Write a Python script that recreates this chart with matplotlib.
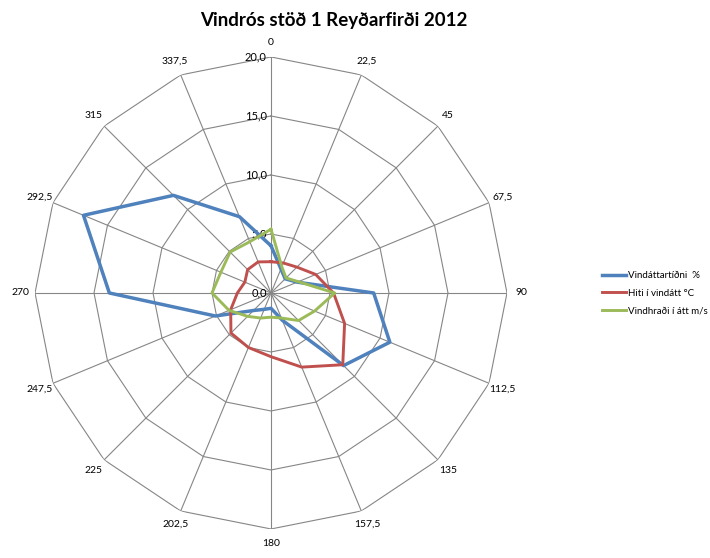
import numpy as np
import matplotlib.pyplot as plt
from matplotlib.transforms import offset_copy

plt.rcParams['font.family'] = ['Lato', 'DejaVu Sans']

# Áttir (gráður) og gildi fyrir hverja átt
attir = [0, 22.5, 45, 67.5, 90, 112.5, 135, 157.5,
         180, 202.5, 225, 247.5, 270, 292.5, 315, 337.5]
att_merki = ["0", "22,5", "45", "67,5", "90", "112,5", "135", "157,5",
             "180", "202,5", "225", "247,5", "270", "292,5", "315", "337,5"]

tidni = [4.0, 2.2, 1.7, 2.4, 8.7, 10.9, 8.7, 2.5,
         1.3, 1.5, 2.1, 5.1, 13.7, 17.2, 11.7, 7.0]
hiti = [2.65, 2.75, 3.1, 4.1, 5.3, 6.75, 8.6, 6.8,
        5.4, 5.0, 4.8, 3.7, 2.85, 2.4, 2.8, 2.85]
vindhradi = [5.4, 2.4, 1.8, 2.5, 5.4, 4.0, 3.3, 2.3,
             2.05, 2.3, 2.8, 3.85, 5.0, 4.6, 4.9, 4.7]

hringir = [0, 5, 10, 15, 20]
hring_merki = ["0,0", "5,0", "10,0", "15,0", "20,0"]

theta = np.deg2rad(attir)
theta_lokad = np.append(theta, theta[0])

def loka(gildi):
    return np.append(gildi, gildi[0])

fig = plt.figure(figsize=(7.1, 5.58), dpi=100)
ax = fig.add_axes([0.0493, 0.052, 0.6648, 0.8459], projection='polar')
ax.set_theta_zero_location('N')
ax.set_theta_direction(-1)
ax.set_ylim(0, 20)
ax.grid(False)
ax.spines['polar'].set_visible(False)
ax.patch.set_visible(False)

# hyrnd net og geislar
grar = '#868686'
for r in hringir[1:]:
    ax.plot(theta_lokad, [r] * len(theta_lokad), color=grar, lw=0.8, zorder=1)
for t in theta:
    ax.plot([t, t], [0, 20], color=grar, lw=0.8, zorder=1)

ax.set_xticks(theta)
ax.set_xticklabels(att_merki, fontsize=7.5)
ax.tick_params(axis='x', pad=0)
ax.set_yticks([])

trans = offset_copy(ax.transData, fig=fig, x=-3, y=0, units='points')
for r, m in zip(hringir, hring_merki):
    ax.text(0, r, m, transform=trans, ha='right', va='center', fontsize=8)

ax.plot(theta_lokad, loka(tidni), color='#4F81BD', lw=2.5, zorder=3,
        label='Vindáttartíðni  %')
ax.plot(theta_lokad, loka(hiti), color='#C0504D', lw=2.1, zorder=3,
        label='Hiti í vindátt °C')
ax.plot(theta_lokad, loka(vindhradi), color='#9BBB59', lw=2.1, zorder=3,
        label='Vindhraði í átt m/s')

fig.legend(loc='upper left', bbox_to_anchor=(0.835, 0.53), frameon=False,
           fontsize=7, handlelength=2.5, handletextpad=0.2, labelspacing=0.9)

fig.suptitle('Vindrós stöð 1 Reyðarfirði 2012', x=0.47, y=0.978,
             fontsize=13.5, fontweight='bold')

fig.savefig('out.png', dpi=100)
